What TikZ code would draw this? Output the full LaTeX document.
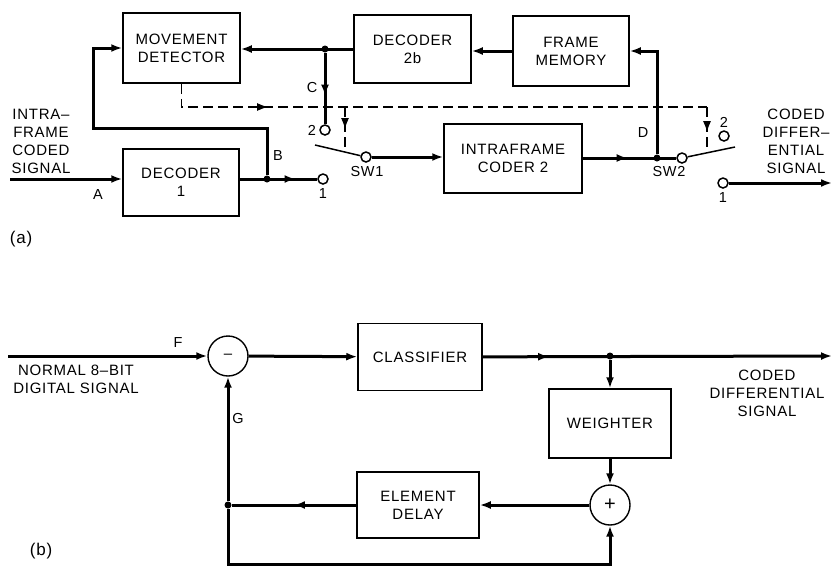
\documentclass[tikz,border=0pt]{standalone}
\usepackage{fontspec}
\setmainfont{Liberation Sans}[LetterSpace=5]
\usetikzlibrary{arrows.meta,decorations.markings,positioning}

\begin{document}
\begin{tikzpicture}[
    x=1pt, y=-1pt,
    font=\fontsize{15}{18}\selectfont,
    bloc/.style={rectangle, draw, line width=1.5pt, align=center, inner sep=2pt},
    somme/.style={circle, draw, line width=1.4pt, minimum size=40pt, inner sep=0pt},
    contact/.style={circle, draw, line width=1.5pt, fill=white, minimum size=10pt,
      inner sep=0pt},
    noeud/.style={circle, fill, minimum size=7pt, inner sep=0pt},
    lbl/.style={font=\fontsize{14.5}{17}\selectfont, inner sep=1pt},
    partie/.style={font=\fontsize{17}{20}\selectfont, inner sep=1pt},
    signal/.style={line width=3pt},
    lame/.style={line width=1.5pt},
    fleche/.style={signal, -{Latex[length=11pt,width=8pt]}},
    commande/.style={line width=1.2pt, dash pattern=on 10pt off 5pt},
    milieu/.style={postaction={decorate}, decoration={markings,
      mark=at position #1 with {\arrow{Latex[length=11pt,width=8pt]}}}}
  ]
    \useasboundingbox (0,0) rectangle (832,566);

    % (a)
    \node[bloc, minimum width=117pt, minimum height=70pt] (detect) at (181.5,48) {MOVEMENT\\DETECTOR};
    \node[bloc, minimum width=117pt, minimum height=68pt] (dec2b) at (412.5,49) {DECODER\\2b};
    \node[bloc, minimum width=116pt, minimum height=70pt] (memoire) at (571,51) {FRAME\\MEMORY};
    \node[bloc, minimum width=116pt, minimum height=67pt] (dec1) at (181,182.5) {DECODER\\1};
    \node[bloc, minimum width=138pt, minimum height=69pt] (codeur) at (513,158.5) {INTRAFRAME\\CODER 2};

    \coordinate (entreeA) at (10,179);
    \coordinate (boucleB) at (93,128);
    \coordinate (s1lame) at (315,145);
    \coordinate (s2lame) at (735,147);
    \coordinate (sortieA) at (832,183);
    \coordinate (cmd1) at (345,107);
    \coordinate (cmd1b) at (345,147);
    \coordinate (cmd2) at (707,107);
    \coordinate (cmd2b) at (707,151);
    \node[noeud] (jB) at (267,179) {};
    \node[noeud] (jC) at (325,49) {};
    \node[noeud] (jD) at (657,158) {};
    \node[contact] (s1c1) at (323,179) {};
    \node[contact] (s1c2) at (325,130) {};
    \node[contact] (s1p) at (366,157) {};
    \node[contact] (s2p) at (682,158) {};
    \node[contact] (s2c2) at (724,136) {};
    \node[contact] (s2c1) at (723,183) {};

    \draw[fleche] (entreeA) -- (entreeA -| dec1.west);
    \draw[signal, milieu=0.72] (entreeA -| dec1.east) -- (s1c1);
    \draw[fleche] (jB) |- (boucleB) |- (detect.west);
    \draw[fleche] (dec2b.west) -- (dec2b.west -| detect.east);
    \draw[signal, milieu=0.6] (jC) -- (s1c2);
    \draw[lame] (s1p) -- (s1lame);
    \draw[fleche] (s1p) -- (s1p -| codeur.west);
    \draw[signal, milieu=0.48] (codeur.east |- s2p) -- (s2p);
    \draw[fleche] (jD) |- (memoire.east);
    \draw[fleche] (memoire.west) -- (memoire.west -| dec2b.east);
    \draw[lame] (s2p) -- (s2lame);
    \draw[fleche] (s2c1) -- (sortieA);
    \draw[commande, milieu=0.2] (detect.south) |- (cmd2);
    \draw[commande, milieu=0.55] (cmd1) -- (cmd1b);
    \draw[commande, milieu=0.57] (cmd2) -- (cmd2b);

    \node[align=center] (txtentree) at (41,141) {INTRA--\\FRAME\\CODED\\SIGNAL};
    \node[align=center] (txtsortie) at (796,141) {CODED\\DIFFER--\\ENTIAL\\SIGNAL};
    \node[lbl] (lA) at (98,195) {A};
    \node[lbl] (lB) at (278,156) {B};
    \node[lbl] (lC) at (312,88) {C};
    \node[lbl] (lD) at (643,133) {D};
    \node[lbl, left=2pt of s1c2] (n2a) {2};
    \node[lbl, below=3pt of s1c1] (n1a) {1};
    \node[lbl] (sw1) at (367,172) {SW1};
    \node[lbl] (sw2) at (669,172) {SW2};
    \node[lbl, above=2pt of s2c2] (n2b) {2};
    \node[lbl, below=3pt of s2c1] (n1b) {1};
    \node[partie] (fa) at (21,239) {(a)};

    % (b)
    \node[somme] (moins) at (228,356) {--};
    \node[bloc, minimum width=124pt, minimum height=67pt] (classif) at (420,357) {CLASSIFIER};
    \node[bloc, minimum width=122pt, minimum height=69pt] (pond) at (610,423.5) {WEIGHTER};
    \node[somme, font=\fontsize{20}{20}\selectfont] (plus) at (610,505) {+};
    \node[bloc, minimum width=122pt, minimum height=66pt] (retard) at (418,505) {ELEMENT\\DELAY};

    \coordinate (entreeF) at (8,356);
    \coordinate (sortieB) at (832,356);
    \coordinate (basD) at (610,564);
    \node[noeud] (jW) at (610,356) {};
    \node[noeud] (jG) at (228,505) {};

    \draw[fleche] (entreeF) -- (moins);
    \draw[fleche] (moins) -- (classif);
    \draw[fleche, milieu=0.19] (classif) -- (sortieB);
    \draw[fleche] (jW) -- (pond);
    \draw[fleche] (pond) -- (plus);
    \draw[fleche] (plus) -- (retard);
    \draw[signal, milieu=0.5] (retard) -- (jG);
    \draw[fleche] (jG) -- (moins);
    \draw[fleche] (jG) |- (basD) -- (plus);

    \node[lbl] (lF) at (178,343) {F};
    \node[lbl] (lG) at (238,418) {G};
    \node[align=center] (txtnormal) at (76,379) {NORMAL 8--BIT\\DIGITAL SIGNAL};
    \node[align=center] (txtcode) at (767,393) {CODED\\DIFFERENTIAL\\SIGNAL};
    \node[partie] (fb) at (41,551) {(b)};
\end{tikzpicture}
\end{document}
